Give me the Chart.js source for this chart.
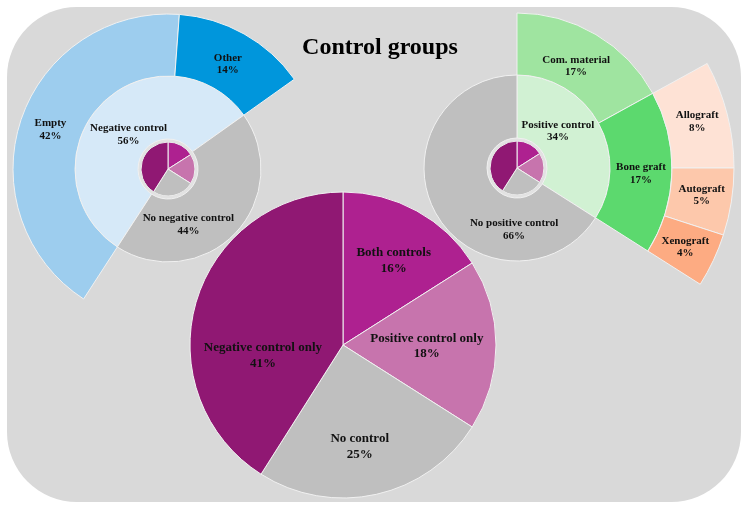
<!DOCTYPE html>
<html>
<head>
<meta charset="utf-8">
<script src="https://cdn.jsdelivr.net/npm/chart.js@4.4.0/dist/chart.umd.min.js"></script>
<style>
  body { margin: 0; background: #fff; }
  #wrap { position: relative; width: 749px; height: 511px; overflow: hidden; background: #fff; }
  #panel { position: absolute; left: 7px; top: 7px; width: 734px; height: 495px; background: #d9d9d9; border-radius: 70px; }
  #title { position: absolute; left: 0; width: 760px; top: 33px; line-height: 28px; text-align: center;
           font: bold 24px "Liberation Serif", "Times New Roman", serif; color: #000; }
  canvas { position: absolute; }
</style>
</head>
<body>
<div id="wrap">
  <div id="panel"></div>
  <canvas id="leftChart" width="314" height="314" style="left:11px; top:12px"></canvas>
  <canvas id="rightChart" width="438" height="438" style="left:298px; top:-51px"></canvas>
  <canvas id="mainChart" width="310" height="310" style="left:188px; top:190px"></canvas>
  <div id="title">Control groups</div>
</div>
<script>
// share of studies per control setup (%)
const mainLabels = ['Both controls', 'Positive control only', 'No control', 'Negative control only'];
const mainValues = [16, 18, 25, 41];

const negLabels = ['Negative control', 'No negative control'];
const negValues = [56, 44];
const negTypeLabels = ['Empty', 'Other'];
const negTypeValues = [42, 14];

const posLabels = ['Positive control', 'No positive control'];
const posValues = [34, 66];
const posTypeLabels = ['Com. material', 'Bone graft'];
const posTypeValues = [17, 17];
const graftLabels = ['Allograft', 'Autograft', 'Xenograft'];
const graftValues = [8, 5, 4];

const mainColors = ['#ae2190', '#c774ad', '#bfbfbf', '#901873'];
const BLANK = 'rgba(0,0,0,0)';
const EDGE = '#f0f0f0';
const sum = arr => arr.reduce((a, b) => a + b, 0);

// writes "name" + "xx%" in the middle of each labelled slice
const sliceLabels = {
  id: 'sliceLabels',
  afterDatasetsDraw(chart, args, opts) {
    const ctx = chart.ctx;
    chart.data.datasets.forEach((ds, di) => {
      if (!ds.labelText) return;
      const meta = chart.getDatasetMeta(di);
      meta.data.forEach((arc, i) => {
        const text = ds.labelText[i];
        if (!text) return;
        const p = arc.getProps(['x', 'y', 'startAngle', 'endAngle', 'innerRadius', 'outerRadius'], true);
        const mid = (p.startAngle + p.endAngle) / 2;
        const frac = p.innerRadius > 0 ? 0.5 : opts.pieFrac;
        const r = p.innerRadius + (p.outerRadius - p.innerRadius) * frac;
        const nudge = (ds.labelNudge && ds.labelNudge[i]) || [0, 0];
        const x = p.x + Math.cos(mid) * r + nudge[0];
        const y = p.y + Math.sin(mid) * r + nudge[1];
        ctx.save();
        ctx.font = 'bold ' + opts.size + 'px "Liberation Serif", serif';
        ctx.fillStyle = '#111';
        ctx.textAlign = 'center';
        ctx.textBaseline = 'middle';
        ctx.fillText(text, x, y - opts.lineHeight / 2);
        ctx.fillText(ds.data[i] + '%', x, y + opts.lineHeight / 2);
        ctx.restore();
      });
    });
  }
};

function baseOptions(radius, size, lineHeight) {
  return {
    responsive: false,
    animation: false,
    devicePixelRatio: 1,
    events: [],
    radius: radius,
    cutout: 0,
    plugins: {
      legend: { display: false },
      tooltip: { enabled: false },
      sliceLabels: { size: size, lineHeight: lineHeight, pieFrac: 0.62 }
    }
  };
}

// small copy of the main pie plus its light rim, used in both side charts
function miniPie() {
  return [
    { data: [100], backgroundColor: ['#e2e2e2'], borderWidth: 0, weight: 3 },
    { data: mainValues, backgroundColor: mainColors, borderColor: EDGE, borderWidth: 1, weight: 27 }
  ];
}

// left: negative control breakdown
new Chart(document.getElementById('leftChart'), {
  type: 'doughnut',
  data: {
    datasets: [
      {
        data: [...negTypeValues, negValues[1]],
        backgroundColor: ['#9dcdee', '#0096dc', BLANK],
        borderColor: [EDGE, EDGE, BLANK],
        borderWidth: 1,
        rotation: 213,
        weight: 62,
        labelText: negTypeLabels,
        labelNudge: [[0, 0], [-1, 3]]
      },
      {
        data: negValues,
        backgroundColor: ['#d6e9f8', '#bfbfbf'],
        borderColor: EDGE,
        borderWidth: 1,
        rotation: 213,
        weight: 63,
        labelText: negLabels,
        labelNudge: [[5, 8], [-24, 13]]
      },
      ...miniPie()
    ]
  },
  options: baseOptions(155, 11, 12.5),
  plugins: [sliceLabels]
});

// right: positive control breakdown
new Chart(document.getElementById('rightChart'), {
  type: 'doughnut',
  data: {
    datasets: [
      {
        data: [posTypeValues[0], ...graftValues, 100 - sum(posTypeValues)],
        backgroundColor: [BLANK, '#fee2d5', '#fdc8ab', '#fdab82', BLANK],
        borderColor: [BLANK, EDGE, EDGE, EDGE, BLANK],
        borderWidth: 1,
        weight: 62,
        labelText: [null, ...graftLabels],
        labelNudge: [null, [0, 0], [1, -2], [0, 0]]
      },
      {
        data: [...posTypeValues, 100 - sum(posTypeValues)],
        backgroundColor: ['#9fe4a0', '#5cd96e', BLANK],
        borderColor: [EDGE, EDGE, BLANK],
        borderWidth: 1,
        weight: 62,
        labelText: posTypeLabels,
        labelNudge: [[-4, 5], [0, 2]]
      },
      {
        data: posValues,
        backgroundColor: ['#d1f1d3', '#bfbfbf'],
        borderColor: EDGE,
        borderWidth: 1,
        weight: 63,
        labelText: posLabels,
        labelNudge: [[-13, -7], [51, 32]]
      },
      ...miniPie()
    ]
  },
  options: baseOptions(217, 11, 12.5),
  plugins: [sliceLabels]
});

// centre: overall control setup
new Chart(document.getElementById('mainChart'), {
  type: 'pie',
  data: {
    labels: mainLabels,
    datasets: [{
      data: mainValues,
      backgroundColor: mainColors,
      borderColor: EDGE,
      borderWidth: 1,
      labelText: mainLabels,
      labelNudge: [[5, -1], [-11, 1], [-4, 9], [11, 37]]
    }]
  },
  options: baseOptions(153, 13, 15.5),
  plugins: [sliceLabels]
});
</script>
</body>
</html>
